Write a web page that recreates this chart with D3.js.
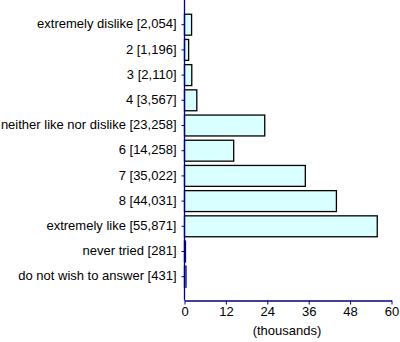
<!DOCTYPE html>
<html>
<head>
<meta charset="utf-8">
<script src="https://cdn.jsdelivr.net/npm/d3@7"></script>
<style>
  html, body { margin: 0; padding: 0; background: #fff; }
  svg text { font-family: "Liberation Sans", Arial, sans-serif; font-size: 13px; fill: #000; }
</style>
</head>
<body>
<svg id="chart" width="400" height="342"></svg>
<script>
// Survey response counts
const categories = [
  "extremely dislike", "2", "3", "4", "neither like nor dislike",
  "6", "7", "8", "extremely like", "never tried", "do not wish to answer"
];
const counts = [2054, 1196, 2110, 3567, 23258, 14258, 35022, 44031, 55871, 281, 431];
const xTicks = [0, 12, 24, 36, 48, 60];
const xAxisTitle = "(thousands)";

const svg = d3.select("#chart");
const axisColor = "#000080";
const fontSize = "13px";

const x = d3.scaleLinear().domain([0, 60]).range([184.5, 391.5]);
const y = d3.scaleBand()
  .domain(categories)
  .range([12.1, 289.3])
  .paddingInner(0.17)
  .paddingOuter(0.085);

const fmt = d3.format(",");
const labelOf = d => `${d} [${fmt(counts[categories.indexOf(d)])}]`;

// Bars
svg.append("g").selectAll("rect")
  .data(categories)
  .join("rect")
  .attr("x", x(0))
  .attr("y", d => y(d))
  .attr("width", (d, i) => Math.max(0, x(counts[i] / 1000) - x(0)))
  .attr("height", y.bandwidth())
  .attr("fill", "#d9ffff")
  .attr("stroke", d => counts[categories.indexOf(d)] < 1000 ? axisColor : "#000")
  .attr("stroke-width", 1.3);

// Category axis
const yAxis = svg.append("g")
  .attr("transform", `translate(${x(0)},0)`)
  .call(d3.axisLeft(y).tickSize(3).tickPadding(5).tickFormat(labelOf));
yAxis.select(".domain").remove();
yAxis.selectAll(".tick line").attr("stroke", axisColor);
yAxis.selectAll(".tick text").attr("dy", "0.28em");
yAxis.append("line")
  .attr("x1", 0).attr("x2", 0).attr("y1", 0).attr("y2", 300.5)
  .attr("stroke", axisColor).attr("stroke-width", 1.3);

// Value axis
const xAxis = svg.append("g")
  .attr("transform", "translate(0,300.5)")
  .call(d3.axisBottom(x).tickValues(xTicks).tickSize(4).tickPadding(2).tickSizeOuter(0));
xAxis.select(".domain").attr("stroke", axisColor).attr("stroke-width", 1.3);
xAxis.selectAll(".tick line").attr("stroke", axisColor);

svg.append("text")
  .attr("x", 287).attr("y", 334.5)
  .attr("text-anchor", "middle")
  .text(xAxisTitle);

svg.selectAll(".tick text")
  .attr("fill", "#000")
  .style("font-family", "'Liberation Sans', Arial, sans-serif")
  .style("font-size", fontSize);
</script>
</body>
</html>
